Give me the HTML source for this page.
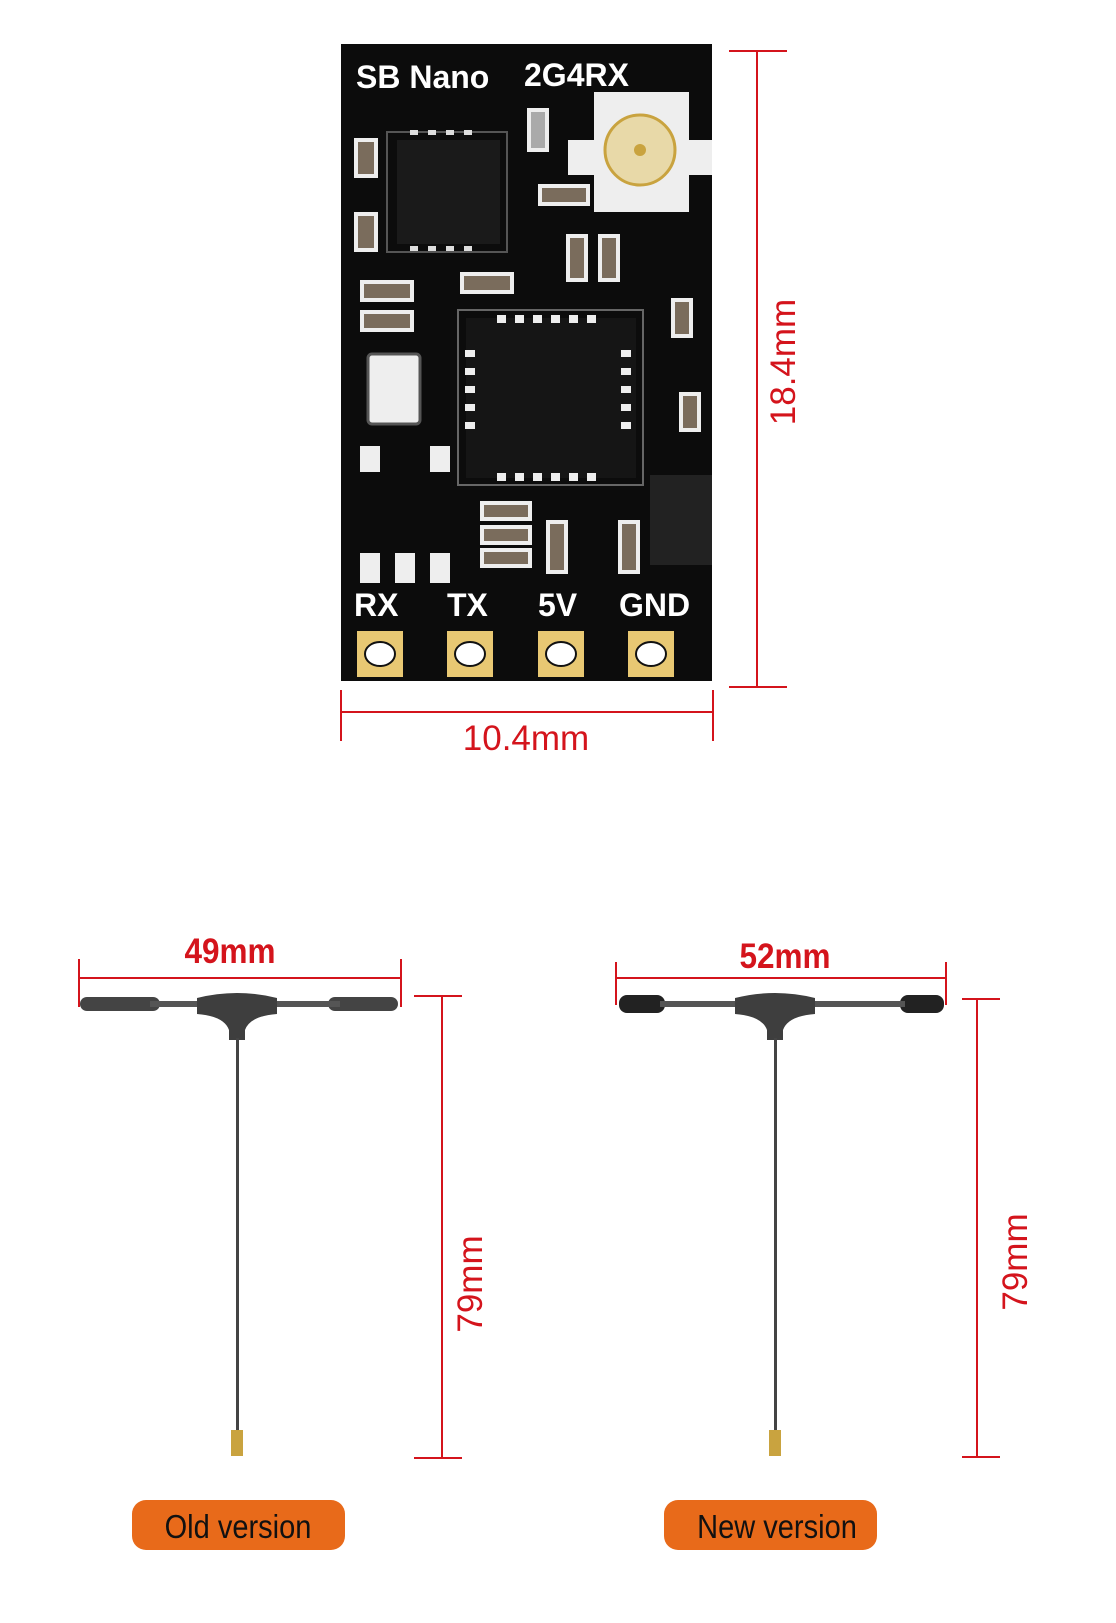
<!DOCTYPE html>
<html><head><meta charset="utf-8"><style>
html,body{margin:0;padding:0;background:#fff;}
svg{display:block;}
text{font-family:"Liberation Sans",sans-serif;}
</style></head><body>
<svg width="1116" height="1623" viewBox="0 0 1116 1623" xmlns="http://www.w3.org/2000/svg">
<rect width="1116" height="1623" fill="#fff"/>
<rect x="341" y="44" width="371" height="637" fill="#0c0c0c"/>
<text x="356" y="88" fill="#fff" font-size="32" font-weight="bold">SB Nano</text>
<text x="524" y="86" fill="#fff" font-size="32" font-weight="bold">2G4RX</text>
<rect x="387" y="132" width="120" height="120" fill="none" stroke="#555" stroke-width="2"/>
<rect x="397" y="140" width="103" height="104" fill="#1a1a1a"/>
<g fill="#ddd"><rect x="410" y="130" width="8" height="5"/><rect x="428" y="130" width="8" height="5"/><rect x="446" y="130" width="8" height="5"/><rect x="464" y="130" width="8" height="5"/>
<rect x="410" y="246" width="8" height="5"/><rect x="428" y="246" width="8" height="5"/><rect x="446" y="246" width="8" height="5"/><rect x="464" y="246" width="8" height="5"/></g>
<rect x="594" y="92" width="95" height="120" fill="#eee"/>
<rect x="568" y="140" width="144" height="35" fill="#eee"/>
<circle cx="640" cy="150" r="35" fill="#e8d9a8" stroke="#c9a33f" stroke-width="3"/>
<circle cx="640" cy="150" r="6" fill="#c9a33f"/>
<g fill="#7a6c5c" stroke="#eee" stroke-width="4">
<rect x="356" y="140" width="20" height="36"/><rect x="356" y="214" width="20" height="36"/>
<rect x="362" y="282" width="50" height="18"/><rect x="362" y="312" width="50" height="18"/>
<rect x="462" y="274" width="50" height="18"/><rect x="540" y="186" width="48" height="18"/>
<rect x="568" y="236" width="18" height="44"/><rect x="600" y="236" width="18" height="44"/>
<rect x="673" y="300" width="18" height="36"/><rect x="681" y="394" width="18" height="36"/>
<rect x="482" y="503" width="48" height="16"/><rect x="482" y="527" width="48" height="16"/><rect x="482" y="550" width="48" height="16"/>
<rect x="548" y="522" width="18" height="50"/><rect x="620" y="522" width="18" height="50"/>
</g>
<rect x="529" y="110" width="18" height="40" fill="#aaa" stroke="#eee" stroke-width="4"/>
<rect x="458" y="310" width="185" height="175" fill="none" stroke="#666" stroke-width="2"/>
<rect x="466" y="318" width="170" height="160" fill="#151515"/>
<g fill="#eee"><rect x="497" y="315" width="9" height="8"/><rect x="515" y="315" width="9" height="8"/><rect x="533" y="315" width="9" height="8"/><rect x="551" y="315" width="9" height="8"/><rect x="569" y="315" width="9" height="8"/><rect x="587" y="315" width="9" height="8"/>
<rect x="497" y="473" width="9" height="8"/><rect x="515" y="473" width="9" height="8"/><rect x="533" y="473" width="9" height="8"/><rect x="551" y="473" width="9" height="8"/><rect x="569" y="473" width="9" height="8"/><rect x="587" y="473" width="9" height="8"/>
<rect x="465" y="350" width="10" height="7"/><rect x="465" y="368" width="10" height="7"/><rect x="465" y="386" width="10" height="7"/><rect x="465" y="404" width="10" height="7"/><rect x="465" y="422" width="10" height="7"/>
<rect x="621" y="350" width="10" height="7"/><rect x="621" y="368" width="10" height="7"/><rect x="621" y="386" width="10" height="7"/><rect x="621" y="404" width="10" height="7"/><rect x="621" y="422" width="10" height="7"/></g>
<rect x="368" y="354" width="52" height="70" rx="4" fill="#eee" stroke="#555" stroke-width="3"/>
<g fill="#eee"><rect x="360" y="446" width="20" height="26"/><rect x="430" y="446" width="20" height="26"/>
<rect x="360" y="553" width="20" height="30"/><rect x="395" y="553" width="20" height="30"/><rect x="430" y="553" width="20" height="30"/></g>
<rect x="650" y="475" width="62" height="90" fill="#222"/>
<g fill="#fff" font-size="32" font-weight="bold">
<text x="354" y="616">RX</text><text x="447" y="616">TX</text><text x="538" y="616">5V</text><text x="619" y="616">GND</text></g>
<g fill="#e8c873"><rect x="357" y="631" width="46" height="46"/><rect x="447" y="631" width="46" height="46"/><rect x="538" y="631" width="46" height="46"/><rect x="628" y="631" width="46" height="46"/></g>
<g fill="#fff" stroke="#111" stroke-width="2"><ellipse cx="380" cy="654" rx="15" ry="12"/><ellipse cx="470" cy="654" rx="15" ry="12"/><ellipse cx="561" cy="654" rx="15" ry="12"/><ellipse cx="651" cy="654" rx="15" ry="12"/></g>
<g stroke="#d4141c" stroke-width="2" fill="none">
<path d="M729 51H787M729 687H787M757 51V687"/>
<path d="M341 690V741M713 690V741M341 712H713"/>
<path d="M79 959V1007M401 959V1007M79 978H401"/>
<path d="M414 996H462M414 1458H462M442 996V1458"/>
<path d="M616 962V1005M946 962V1005M616 978H946"/>
<path d="M962 999H1000M962 1457H1000M977 999V1457"/>
</g>
<g fill="#d4141c" font-size="35" font-weight="bold">
<text x="526" y="750" text-anchor="middle" font-weight="normal">10.4mm</text>
<text transform="translate(795 362) rotate(-90)" text-anchor="middle" font-weight="normal">18.4mm</text>
<text x="230" y="963" text-anchor="middle" transform="translate(230 0) scale(0.9 1) translate(-230 0)">49mm</text>
<text x="785" y="968" text-anchor="middle" transform="translate(785 0) scale(0.9 1) translate(-785 0)">52mm</text>
<text transform="translate(482 1284) rotate(-90)" text-anchor="middle" font-weight="normal">79mm</text>
<text transform="translate(1027 1262) rotate(-90)" text-anchor="middle" font-weight="normal">79mm</text>
</g>
<g>
<rect x="80" y="997" width="80" height="14" rx="7" fill="#444"/>
<rect x="328" y="997" width="70" height="14" rx="7" fill="#444"/>
<rect x="150" y="1001" width="190" height="6" fill="#555"/>
<path d="M197 998 Q237 988 277 998 L277 1014 Q250 1016 245 1030 L245 1040 L229 1040 L229 1030 Q224 1016 197 1014Z" fill="#3e3e3e"/>
<rect x="236" y="1038" width="3" height="400" fill="#444"/>
<rect x="231" y="1430" width="12" height="26" fill="#c9a33f"/>
</g>
<g>
<rect x="619" y="995" width="46" height="18" rx="8" fill="#222"/>
<rect x="900" y="995" width="44" height="18" rx="8" fill="#222"/>
<rect x="660" y="1001" width="245" height="6" fill="#555"/>
<path d="M735 998 Q775 988 815 998 L815 1014 Q788 1016 783 1030 L783 1040 L767 1040 L767 1030 Q762 1016 735 1014Z" fill="#3e3e3e"/>
<rect x="774" y="1038" width="3" height="400" fill="#444"/>
<rect x="769" y="1430" width="12" height="26" fill="#c9a33f"/>
</g>
<rect x="132" y="1500" width="213" height="50" rx="14" fill="#e86a1a"/>
<rect x="664" y="1500" width="213" height="50" rx="14" fill="#e86a1a"/>
<g fill="#111" font-size="33">
<text x="238" y="1538" text-anchor="middle" transform="translate(238 0) scale(0.88 1) translate(-238 0)">Old version</text>
<text x="777" y="1538" text-anchor="middle" transform="translate(777 0) scale(0.88 1) translate(-777 0)">New version</text>
</g>
</svg>
</body></html>
